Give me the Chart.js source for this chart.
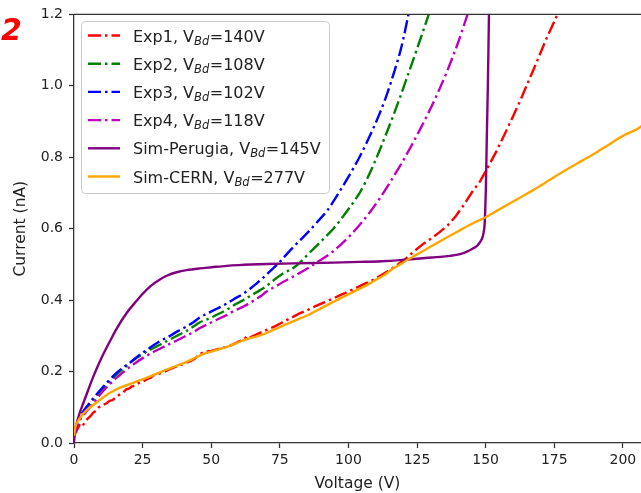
<!DOCTYPE html>
<html lang="en">
<head>
  <meta charset="UTF-8">
  <title>I-V curves</title>
  <script src="https://cdn.jsdelivr.net/npm/chart.js"></script>
  <style>
    body { margin: 0; background: #fff; }
  </style>
</head>
<body>
  <canvas id="ivChart" width="641" height="493"></canvas>

  <script>
    // series names and breakdown voltages (legend text)
    const names = ['Exp1', 'Exp2', 'Exp3', 'Exp4', 'Sim-Perugia', 'Sim-CERN'];
    const vbd = [140, 108, 102, 118, 145, 277];

    // axis ticks
    const xTicks = [0, 25, 50, 75, 100, 125, 150, 175, 200];
    const yTicks = [0.0, 0.2, 0.4, 0.6, 0.8, 1.0, 1.2];

    // Exp1 (measured, a bit noisy)
    const exp1V = [0, 1, 2, 3, 4, 5, 6, 7, 8, 9, 10, 11, 12, 13, 14, 15, 16, 17, 18, 19, 20, 21, 22, 23, 24, 25, 26, 27, 28, 29, 30,
      32, 34, 36, 38, 40, 42, 44, 46, 48, 50, 52, 54, 56, 58, 60, 62, 63, 64, 66, 68, 70, 73, 76, 79, 82, 85, 88, 91, 94, 97, 100,
      103, 106, 109, 112, 115, 118, 121, 124, 127, 130, 133, 136, 139, 142, 145, 148, 151, 154, 157, 160, 163, 166, 169, 172, 175, 177];
    const exp1I = [0.02, 0.035, 0.05, 0.045, 0.06, 0.068, 0.075, 0.085, 0.09, 0.1, 0.103, 0.108, 0.112, 0.118, 0.12, 0.126, 0.132, 0.138, 0.142, 0.15, 0.152, 0.158, 0.16, 0.165, 0.17, 0.172, 0.176, 0.18, 0.183, 0.19, 0.192,
      0.196, 0.203, 0.21, 0.216, 0.222, 0.228, 0.236, 0.25, 0.256, 0.258, 0.262, 0.266, 0.27, 0.276, 0.284, 0.29, 0.299, 0.295, 0.302, 0.309, 0.316, 0.326, 0.338, 0.35, 0.362, 0.372, 0.383, 0.393, 0.403, 0.414, 0.424,
      0.435, 0.446, 0.457, 0.47, 0.484, 0.5, 0.517, 0.537, 0.556, 0.572, 0.589, 0.608, 0.634, 0.666, 0.702, 0.733, 0.775, 0.818, 0.866, 0.915, 0.966, 1.02, 1.074, 1.13, 1.18, 1.215];

    // Exp2
    const exp2V = [0, 1, 2.2, 4, 7, 10, 13.1, 16, 19.2, 22, 25.3, 28, 31.3, 35, 38, 41, 43.5, 45.9, 49.6, 52, 55.6, 58.1, 61.7, 64.5, 67.8, 70.2, 73.8, 76, 79.9, 82.4,
      86, 89, 92, 94.5, 98.1, 101, 104.2, 106.5, 109.1, 111.5, 114, 116.5, 118.8, 121, 123.7, 125.5, 127.3, 129.7];
    const exp2I = [0.02, 0.048, 0.07, 0.09, 0.12, 0.148, 0.173, 0.195, 0.216, 0.234, 0.25, 0.262, 0.275, 0.29, 0.302, 0.314, 0.326, 0.338, 0.35, 0.359, 0.373, 0.385, 0.4, 0.413, 0.428, 0.44, 0.462, 0.474, 0.49, 0.506,
      0.534, 0.557, 0.58, 0.6, 0.635, 0.665, 0.702, 0.735, 0.778, 0.822, 0.87, 0.92, 0.968, 1.016, 1.075, 1.115, 1.155, 1.21];

    // Exp3
    const exp3V = [0, 1, 2.2, 4, 7, 10, 13.1, 16, 20.4, 24, 27.7, 31.3, 35, 38, 41, 43.5, 45.9, 48.4, 52, 55.6, 58.1, 61.7, 64.5, 67.8, 70.2, 74.5, 78, 82.4,
      86, 89, 92, 94.4, 97, 100, 102, 104.2, 106.7, 109, 111.5, 113.5, 115.2, 117, 118.8, 120, 121.2, 122];
    const exp3I = [0.02, 0.05, 0.075, 0.095, 0.125, 0.152, 0.178, 0.2, 0.225, 0.247, 0.267, 0.285, 0.3, 0.314, 0.326, 0.338, 0.352, 0.362, 0.376, 0.39, 0.402, 0.418, 0.434, 0.455, 0.472, 0.503, 0.533, 0.568,
      0.596, 0.622, 0.648, 0.675, 0.707, 0.745, 0.772, 0.803, 0.842, 0.88, 0.925, 0.965, 1.003, 1.047, 1.094, 1.132, 1.175, 1.205];

    // Exp4
    const exp4V = [0, 1, 2.2, 4, 7, 10, 13.1, 16, 19.2, 22, 25.3, 28, 31.3, 35, 38, 41, 43.5, 45.9, 49.6, 52, 55.6, 58.1, 61.7, 64.5, 67.8, 70.2, 73.8, 76, 79.9, 82.4,
      86, 88, 91, 94.5, 98.1, 101, 104.2, 108, 111.5, 115, 118.8, 122.5, 126.1, 130, 133.4, 136, 138.2, 140, 141.9, 143.3, 144];
    const exp4I = [0.02, 0.045, 0.065, 0.083, 0.111, 0.14, 0.165, 0.186, 0.206, 0.222, 0.239, 0.251, 0.264, 0.278, 0.289, 0.301, 0.31, 0.322, 0.336, 0.345, 0.358, 0.369, 0.382, 0.394, 0.41, 0.424, 0.44, 0.45, 0.466, 0.477,
      0.493, 0.503, 0.518, 0.537, 0.562, 0.584, 0.612, 0.648, 0.686, 0.728, 0.776, 0.826, 0.878, 0.938, 0.995, 1.042, 1.085, 1.122, 1.165, 1.198, 1.215];

    // Sim-Perugia
    const simPV = [0, 0.3, 1, 2, 3.4, 5, 7, 9, 10.7, 13.1, 15.6, 19.2, 22.8, 25.3, 28, 31.3, 34, 37.4, 41, 45.9, 50, 55.6, 60, 70.2, 80, 94.5, 104.2, 112, 118.8,
      124, 128, 133.4, 137, 140.7, 143, 145.5, 147, 148, 148.8, 149.2, 149.6, 149.8, 150.1, 150.4, 150.8, 151.3];
    const simPI = [0.0, 0.03, 0.055, 0.082, 0.112, 0.145, 0.185, 0.221, 0.249, 0.285, 0.321, 0.364, 0.398, 0.42, 0.44, 0.458, 0.469, 0.478, 0.484, 0.489, 0.492, 0.496, 0.498, 0.501, 0.503, 0.505, 0.507, 0.509, 0.512,
      0.515, 0.518, 0.521, 0.524, 0.529, 0.535, 0.545, 0.553, 0.563, 0.575, 0.587, 0.61, 0.643, 0.72, 0.85, 1.0, 1.25];

    // Sim-CERN
    const simCV = [0, 0.5, 1, 2, 3.5, 5.8, 8, 10.7, 13.5, 16.8, 20, 22.8, 25.9, 28.9, 32, 35, 38, 41, 44, 47, 50, 53, 56, 59, 62, 65, 68, 70.2, 73, 76, 79, 82.4,
      85, 88, 91, 94.5, 97, 100, 103, 106.7, 110, 113, 116, 118.8, 122, 125, 130, 135, 140, 145, 150, 155, 160, 165, 170, 175, 180, 185, 190, 195, 200, 205, 207];
    const simCI = [0.02, 0.045, 0.055, 0.068, 0.083, 0.1, 0.112, 0.128, 0.142, 0.155, 0.164, 0.172, 0.181, 0.19, 0.2, 0.209, 0.218, 0.227, 0.238, 0.249, 0.256, 0.263, 0.27, 0.279, 0.288, 0.295, 0.302, 0.308, 0.318, 0.328, 0.338, 0.349,
      0.357, 0.369, 0.381, 0.395, 0.405, 0.416, 0.428, 0.442, 0.457, 0.47, 0.487, 0.5, 0.515, 0.528, 0.55, 0.572, 0.593, 0.614, 0.632, 0.654, 0.676, 0.698, 0.72, 0.745, 0.768, 0.79, 0.812, 0.836, 0.86, 0.878, 0.888];

    const toPoints = (xs, ys) => xs.map((x, i) => ({ x: x, y: ys[i] }));
    const dashDot = [13, 4, 2.5, 4];

    const series = [
      { v: exp1V, i: exp1I, color: '#ff0000', dash: dashDot, noisy: true },
      { v: exp2V, i: exp2I, color: '#008000', dash: dashDot },
      { v: exp3V, i: exp3I, color: '#0000ff', dash: dashDot },
      { v: exp4V, i: exp4I, color: '#bf00bf', dash: dashDot },
      { v: simPV, i: simPI, color: '#800080', dash: [] },
      { v: simCV, i: simCI, color: '#ffa500', dash: [] }
    ];

    const datasets = series.map((s, k) => ({
      label: names[k] + ', V_Bd=' + vbd[k] + 'V',
      data: toPoints(s.v, s.i),
      borderColor: s.color,
      borderWidth: 2.4,
      borderDash: s.dash,
      pointRadius: 0,
      fill: false,
      cubicInterpolationMode: s.noisy ? 'default' : 'monotone',
      tension: 0,
      order: series.length - k   // later series drawn on top
    }));

    // top spine, legend box with subscripts, panel mark
    const extras = {
      id: 'extras',
      afterDraw(chart) {
        const ctx = chart.ctx;
        const area = chart.chartArea;
        ctx.save();

        ctx.strokeStyle = '#333';
        ctx.lineWidth = 1.3;
        ctx.beginPath();
        ctx.moveTo(area.left, area.top);
        ctx.lineTo(area.right, area.top);
        ctx.stroke();

        // legend
        const bx = 81, by = 21, bw = 248, bh = 172;
        ctx.beginPath();
        ctx.roundRect(bx + 0.5, by + 0.5, bw, bh, 4);
        ctx.fillStyle = 'rgba(255,255,255,0.8)';
        ctx.fill();
        ctx.strokeStyle = '#cccccc';
        ctx.lineWidth = 1;
        ctx.stroke();

        chart.data.datasets.forEach((ds, k) => {
          const cy = 35.5 + k * 28.2;
          ctx.strokeStyle = ds.borderColor;
          ctx.lineWidth = ds.borderWidth;
          ctx.setLineDash(ds.borderDash);
          ctx.beginPath();
          ctx.moveTo(88, cy);
          ctx.lineTo(120, cy);
          ctx.stroke();
          ctx.setLineDash([]);

          const base = cy + 6;
          let x = 133;
          ctx.fillStyle = '#222';
          ctx.textBaseline = 'alphabetic';
          ctx.font = '16px "DejaVu Sans"';
          const head = names[k] + ', V';
          ctx.fillText(head, x, base);
          x += ctx.measureText(head).width;
          ctx.font = 'italic 11.5px "DejaVu Sans"';
          ctx.fillText('Bd', x, base + 3);
          x += ctx.measureText('Bd').width + 0.5;
          ctx.font = '16px "DejaVu Sans"';
          ctx.fillText('=' + vbd[k] + 'V', x, base);
        });

        ctx.fillStyle = '#ff0000';
        ctx.font = 'italic bold 30px "DejaVu Sans"';
        ctx.fillText('2', 1, 40);
        ctx.restore();
      }
    };

    const tickFont = { family: 'DejaVu Sans', size: 14 };
    const titleFont = { family: 'DejaVu Sans', size: 15.5 };

    new Chart(document.getElementById('ivChart'), {
      type: 'line',
      data: { datasets: datasets },
      options: {
        responsive: false,
        animation: false,
        layout: { padding: { top: 14, right: 0, bottom: 0, left: 0 } },
        plugins: { legend: { display: false }, tooltip: { enabled: false } },
        scales: {
          x: {
            type: 'linear',
            min: 0,
            max: 206.6,
            afterFit: s => { s.height = 50; },
            afterBuildTicks: s => { s.ticks = xTicks.map(v => ({ value: v })); },
            ticks: { font: tickFont, color: '#222', padding: 4, maxRotation: 0 },
            grid: { drawOnChartArea: false, drawTicks: true, tickLength: 5, tickColor: '#333', tickWidth: 1.3 },
            border: { color: '#333', width: 1.3 },
            title: { display: true, text: 'Voltage (V)', font: titleFont, color: '#222', padding: { top: 0, bottom: 0 } }
          },
          y: {
            type: 'linear',
            min: 0,
            max: 1.2,
            afterFit: s => { s.width = 74; },
            afterBuildTicks: s => { s.ticks = yTicks.map(v => ({ value: v })); },
            ticks: { font: tickFont, color: '#222', padding: 6, callback: v => v.toFixed(1) },
            grid: { drawOnChartArea: false, drawTicks: true, tickLength: 5, tickColor: '#333', tickWidth: 1.3 },
            border: { color: '#333', width: 1.3 },
            title: { display: true, text: 'Current (nA)', font: titleFont, color: '#222', padding: { top: 12, bottom: 0 } }
          }
        }
      },
      plugins: [extras]
    });
  </script>
</body>
</html>
